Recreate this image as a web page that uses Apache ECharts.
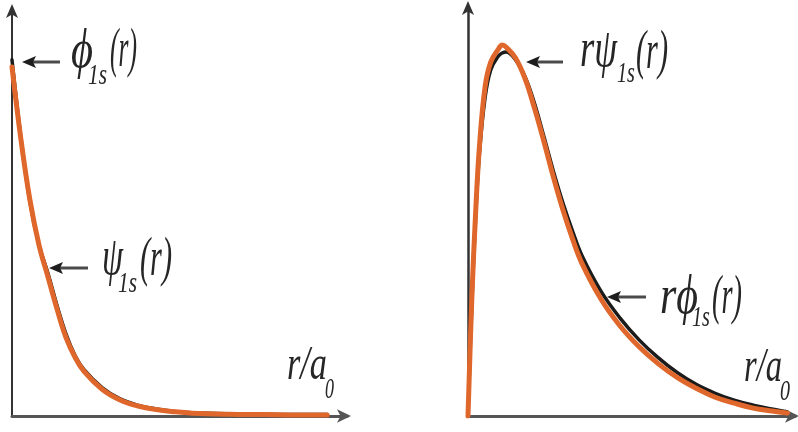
<!DOCTYPE html>
<html><head><meta charset="utf-8">
<script src="https://cdn.jsdelivr.net/npm/echarts@6/dist/echarts.min.js"></script>
<style>html,body{margin:0;padding:0;background:#fff}#c{width:798px;height:432px}</style>
</head><body><div id="c"></div>
<script>
// ---- Left panel: phi_1s(r) (Slater, black) and psi_1s(r) (orange), r in units of a0
const leftR  = [0,0.25,0.5,0.75,1.0,1.25,1.5,1.75,2.0,2.5,3.0,3.5,4.0,4.5,5.0,6.0,7.0,8.0,8.75];
const phi1s  = [1.0,0.78,0.60,0.48,0.40,0.31,0.23,0.17,0.13,0.08,0.048,0.030,0.020,0.013,0.009,0.006,0.005,0.004,0.004];
const psi1s  = [0.98,0.775,0.605,0.48,0.39,0.30,0.22,0.165,0.125,0.075,0.045,0.028,0.018,0.012,0.008,0.005,0.004,0.003,0.003];
// ---- Right panel: r*phi_1s(r) (black) and r*psi_1s(r) (orange)
const rightR = [0,0.1,0.2,0.3,0.45,0.6,0.8,0.9,1.0,1.25,1.5,1.75,2.0,2.25,2.5,2.75,3.0,3.5,4.0,4.5,5.0,5.5,6.0,6.5,7.0,7.5,8.0,8.4];
const rPhi1s = [0,0.112,0.200,0.265,0.322,0.350,0.364,0.367,0.368,0.360,0.343,0.316,0.282,0.247,0.215,0.187,0.162,0.126,0.099,0.077,0.059,0.044,0.032,0.023,0.016,0.011,0.007,0.004];
const rPsi1s = [0,0.118,0.205,0.272,0.333,0.358,0.371,0.375,0.373,0.362,0.341,0.311,0.277,0.241,0.208,0.179,0.154,0.118,0.091,0.070,0.053,0.039,0.028,0.019,0.013,0.008,0.005,0.003];

const BLACK = '#1b1b1b', ORANGE = '#E0672B';
const FONT = '"Liberation Serif", "DejaVu Serif", serif';
const zip = (xs, ys) => xs.map((x, i) => [x, ys[i]]);

const ctx = document.createElement('canvas').getContext('2d');
function measure(t, size) { ctx.font = `italic ${size}px ${FONT}`; return ctx.measureText(t).width; }
// parts: [text, fontSize, x0, x1, yMid]
function label(parts) {
  return parts.map(([t, size, x0, x1, ym]) => ({
    type: 'text', x: x0, y: ym, scaleX: (x1 - x0) / measure(t, size), silent: true,
    style: { text: t, fontSize: size, fontStyle: 'italic', fontFamily: FONT, fill: '#262626',
             verticalAlign: 'middle', align: 'left' }
  }));
}
function arrow(tipX, tailX, y) {
  return [
    { type: 'line', silent: true, shape: { x1: tipX + 8, y1: y, x2: tailX, y2: y }, style: { stroke: '#4a4a4a', lineWidth: 3 } },
    { type: 'polygon', silent: true, shape: { points: [[tipX, y], [tipX + 14, y - 6], [tipX + 11, y], [tipX + 14, y + 6]] },
      style: { fill: '#1e1e1e' } }
  ];
}

function axisPair(gi, xmax, ymax, yLineW) {
  return {
    x: { type: 'value', gridIndex: gi, min: 0, max: xmax,
         axisLine: { show: true, symbol: ['none', 'arrow'], symbolSize: [10, 14], symbolOffset: [0, 4],
                     lineStyle: { color: '#555', width: 3 } },
         axisTick: { show: false }, axisLabel: { show: false }, splitLine: { show: false } },
    y: { type: 'value', gridIndex: gi, min: 0, max: ymax,
         axisLine: { show: true, symbol: ['none', 'arrow'], symbolSize: [9, 14], symbolOffset: [0, 6],
                     lineStyle: { color: '#333', width: yLineW } },
         axisTick: { show: false }, axisLabel: { show: false }, splitLine: { show: false } }
  };
}
const A0 = axisPair(0, 9.3, 1.14, 2);
const A1 = axisPair(1, 8.6, 0.4135, 2.5);

const lineSeries = (gi, data, color, w, z) => ({
  type: 'line', xAxisIndex: gi, yAxisIndex: gi, data, smooth: 0.4, showSymbol: false, symbol: 'none',
  lineStyle: { color, width: w, cap: 'round' }, z, silent: true, animation: false
});

const chart = echarts.init(document.getElementById('c'), null, { renderer: 'canvas' });
chart.setOption({
  animation: false,
  backgroundColor: '#fff',
  grid: [
    { left: 12, top: 10, width: 335, height: 406 },
    { left: 468, top: 7, width: 327, height: 409 }
  ],
  xAxis: [A0.x, A1.x],
  yAxis: [A0.y, A1.y],
  series: [
    lineSeries(0, zip(leftR, phi1s), BLACK, 3.5, 2),
    lineSeries(0, zip(leftR, psi1s), ORANGE, 5, 3),
    lineSeries(1, zip(rightR, rPhi1s), BLACK, 3.5, 2),
    lineSeries(1, zip(rightR, rPsi1s), ORANGE, 5, 3)
  ],
  graphic: [
    ...arrow(22, 60, 62),
    ...label([['\u03d5', 54, 71, 93, 53], ['1s', 30, 88, 107, 76], ['(r)', 54, 110, 137, 52]]),
    ...arrow(49, 88, 268),
    ...label([['\u03c8', 54, 102, 123, 260], ['1s', 30, 118, 137, 284], ['(r)', 54, 140, 172, 261]]),
    ...label([['r/a', 48, 287, 327, 366], ['0', 30, 325, 334, 390]]),
    ...arrow(526, 563, 62),
    ...label([['r\u03c8', 54, 580, 617, 52], ['1s', 30, 617, 635, 74], ['(r)', 54, 636, 668, 54]]),
    ...arrow(607, 646, 297),
    ...label([['r\u03d5', 54, 660, 698, 299], ['1s', 30, 692, 710, 318], ['(r)', 54, 712, 742, 299]]),
    ...label([['r/a', 48, 744, 782, 368], ['0', 30, 780, 790, 392]])
  ]
});
</script>
</body></html>
